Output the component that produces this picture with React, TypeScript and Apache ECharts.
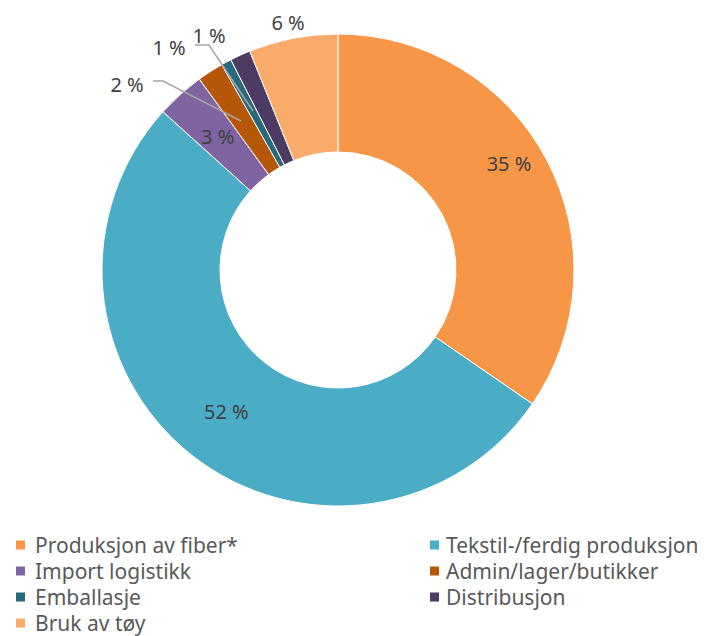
import React, { useEffect, useRef } from "react";
import * as echarts from "echarts";

const categories = [
  "Produksjon av fiber*",
  "Tekstil-/ferdig produksjon",
  "Import logistikk",
  "Admin/lager/butikker",
  "Emballasje",
  "Distribusjon",
  "Bruk av tøy",
];
const values = [34.6, 52.1, 3.3, 1.8, 0.7, 1.4, 6.1];
const colors = ["#F79646", "#4BACC6", "#8064A2", "#B65708", "#276A7C", "#4E3B63", "#F9AB6C"];

const legendColumnA = [0, 2, 4, 6];
const legendColumnB = [1, 3, 5];

// label placement per slice (styling only)
const insideLabels = [0, 1, 2];

const FONT = "Noto Sans";

export default function App() {
  const ref = useRef<HTMLDivElement>(null);

  useEffect(() => {
    if (!ref.current) return;
    const chart = echarts.init(ref.current, undefined, { renderer: "svg" });

    const data = categories.map((name, i) => ({
      name,
      value: values[i],
      itemStyle: { color: colors[i] },
      label: { position: insideLabels.includes(i) ? "inside" : "outside" },
    }));

    const legendBase = {
      orient: "vertical",
      icon: "rect",
      itemWidth: 11,
      itemHeight: 11,
      itemGap: 5,
      padding: 0,
      height: 110,
      selectedMode: false,
    };
    const legendText = (pad: number) => ({
      fontFamily: FONT,
      fontSize: 21,
      lineHeight: 21,
      color: "#595959",
      padding: [0, 0, 0, pad],
    });

    const leaderStyle = { stroke: "#A6A6A6", lineWidth: 1.5, fill: "none" };

    const option: any = {
      animation: false,
      backgroundColor: "#ffffff",
      legend: [
        { ...legendBase, left: 14, top: 534.5, textStyle: legendText(4), data: legendColumnA.map((i) => categories[i]) },
        { ...legendBase, left: 428, top: 534.5, textStyle: legendText(1), data: legendColumnB.map((i) => categories[i]) },
      ],
      graphic: [
        { type: "polyline", z: 100, shape: { points: [[153, 81], [163, 81], [241, 121]] }, style: leaderStyle },
        { type: "polyline", z: 100, shape: { points: [[195, 45], [209, 45], [253, 111]] }, style: leaderStyle },
      ],
      series: [
        {
          type: "pie",
          center: [338, 270],
          radius: [118, 236],
          startAngle: 90,
          clockwise: true,
          avoidLabelOverlap: false,
          itemStyle: { borderColor: "#ffffff", borderWidth: 1 },
          label: {
            show: true,
            fontFamily: FONT,
            fontSize: 20,
            color: "#404040",
            formatter: (p: any) => `${Math.round(p.value)} %`,
          },
          labelLine: { show: false },
          labelLayout: (p: any) => {
            const c = { align: "center", verticalAlign: "middle" };
            switch (p.dataIndex) {
              case 0:
                return { ...c, x: 509, y: 163 };
              case 3:
                return { ...c, x: 127, y: 84 };
              case 4:
                return { ...c, x: 209, y: 35 };
              case 5:
                return { ...c, x: 169, y: 47 };
              case 6:
                return { ...c, x: 288, y: 22 };
              default:
                return {};
            }
          },
          data,
        },
      ],
    };

    chart.setOption(option);
    return () => chart.dispose();
  }, []);

  return (
    <div
      ref={ref}
      style={{ position: "fixed", left: 0, top: 0, width: 704, height: 636, background: "#fff" }}
    />
  );
}
